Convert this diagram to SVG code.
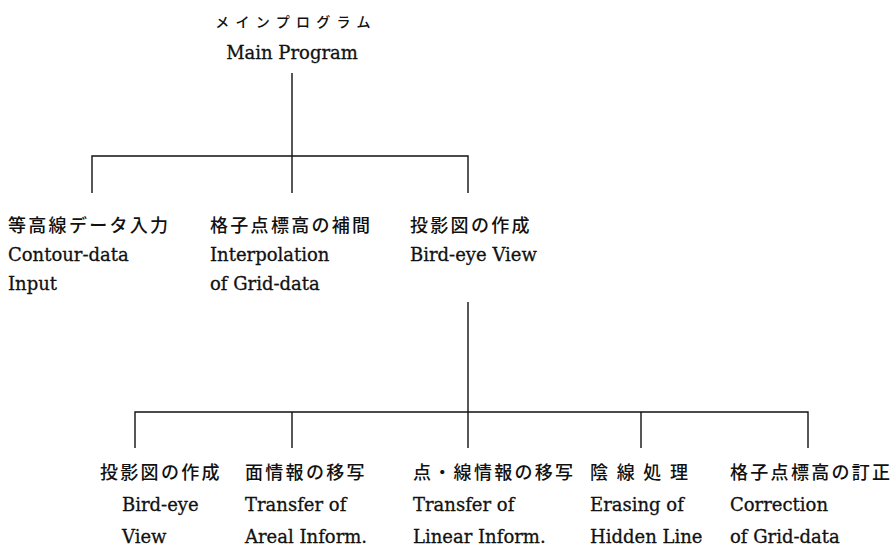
<svg xmlns="http://www.w3.org/2000/svg" width="895" height="553" viewBox="0 0 895 553">
<style>
.jp{font-family:"Noto Sans CJK JP","Noto Sans",sans-serif;font-size:18px;font-weight:500;letter-spacing:2.3px;fill:#111;}
.kana{font-family:"Noto Sans CJK JP","Noto Sans",sans-serif;font-size:14px;font-weight:500;letter-spacing:6.3px;fill:#111;}
.en{font-family:"DejaVu Serif","Liberation Serif",serif;font-size:18px;fill:#111;stroke:#111;stroke-width:0.3;}
.ln{stroke:#111;stroke-width:1.4;fill:none;}
</style>
<rect width="895" height="553" fill="#fff"/>
<g id="connectors">
<path class="ln" d="M292 73V156M92 193V156H468V193M292 156V193"/>
<path class="ln" d="M468 302V448M135 448V412H808V448M292 412V448M641 412V448"/>
</g>
<g id="main">
<text class="kana" x="296" y="27" text-anchor="middle">メインプログラム</text>
<text class="en" x="292" y="59" text-anchor="middle">Main Program</text>
</g>
<g id="contour-input">
<text class="jp" x="8" y="232">等高線データ入力</text>
<text class="en" x="8" y="261">Contour-data</text>
<text class="en" x="8" y="290">Input</text>
</g>
<g id="interpolation">
<text class="jp" x="210" y="232">格子点標高の補間</text>
<text class="en" x="210" y="261">Interpolation</text>
<text class="en" x="210" y="290">of Grid-data</text>
</g>
<g id="bird-eye">
<text class="jp" x="410" y="232">投影図の作成</text>
<text class="en" x="410" y="261">Bird-eye View</text>
</g>
<g id="sub-bird-eye">
<text class="jp" x="100" y="479">投影図の作成</text>
<text class="en" x="122" y="511">Bird-eye</text>
<text class="en" x="122" y="543">View</text>
</g>
<g id="areal">
<text class="jp" x="245" y="479">面情報の移写</text>
<text class="en" x="245" y="511">Transfer of</text>
<text class="en" x="245" y="543">Areal Inform.</text>
</g>
<g id="linear">
<text class="jp" x="413" y="479">点・線情報の移写</text>
<text class="en" x="413" y="511">Transfer of</text>
<text class="en" x="413" y="543">Linear Inform.</text>
</g>
<g id="hidden-line">
<text class="jp" x="590" y="479" xml:space="preserve">陰 線 処 理</text>
<text class="en" x="590" y="511">Erasing of</text>
<text class="en" x="590" y="543">Hidden Line</text>
</g>
<g id="correction">
<text class="jp" x="730" y="479">格子点標高の訂正</text>
<text class="en" x="730" y="511">Correction</text>
<text class="en" x="730" y="543">of Grid-data</text>
</g>
</svg>
